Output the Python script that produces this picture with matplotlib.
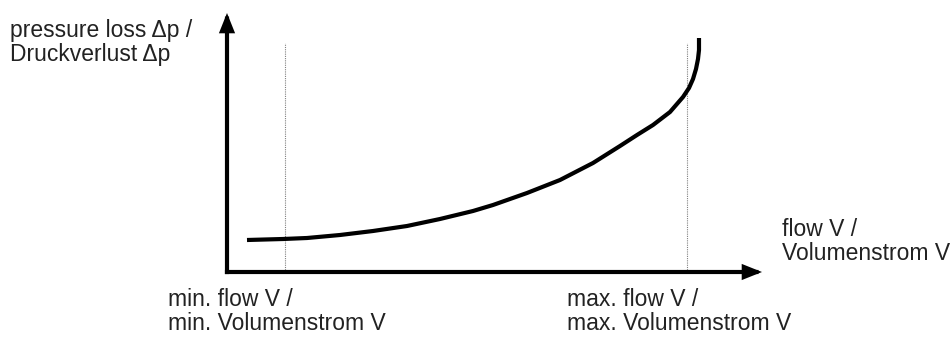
import matplotlib
matplotlib.use('Agg')
import matplotlib.pyplot as plt

plt.rcParams.update({
    'font.family': ['Liberation Sans', 'DejaVu Sans'],
    'font.size': 16.5,
})

# schematic curve (flow, pressure loss) in axis units
flow = [20, 56, 80, 113, 146, 180, 213, 246, 266, 300, 333, 366, 393,
        410, 426, 443, 456, 462, 466, 469, 471, 472, 472]
dp = [32, 33, 34, 37, 41, 46, 53, 61, 67, 79, 92, 109, 126,
      137, 147, 160, 175, 184, 193, 203, 213, 222, 234]

flow_min = 58
flow_max = 460
marker_top = 229

XMAX, YMAX = 535, 259
W, H = 953, 338

fig = plt.figure(figsize=(W / 100, H / 100), dpi=100)
ax = fig.add_axes([227 / W, (H - 272) / H, 535 / W, 259 / H])
ax.set_xlim(0, XMAX)
ax.set_ylim(0, YMAX)
ax.axis('off')

# axes with arrow heads
arrow = dict(arrowstyle='-|>,head_length=0.55,head_width=0.22', lw=3,
             color='black', shrinkA=0, shrinkB=0, joinstyle='miter',
             capstyle='projecting')
ax.annotate('', xy=(XMAX, 0), xytext=(0, 0), arrowprops=arrow,
            annotation_clip=False)
ax.annotate('', xy=(0, YMAX), xytext=(0, 0), arrowprops=arrow,
            annotation_clip=False)

# min / max flow markers
for fx in (flow_min, flow_max):
    ax.plot([fx, fx], [0, marker_top], color='#808080', lw=0.8,
            ls=(0, (1, 1)))

ax.plot(flow, dp, color='black', lw=3, solid_capstyle='butt',
        solid_joinstyle='round')

txt = dict(color='#222222', fontsize=16.5, linespacing=1.05, va='top',
           ha='left')
fig.text(10 / W, 1 - 19 / H, 'pressure loss \u0394p /\nDruckverlust \u0394p', **txt)
fig.text(782 / W, 1 - 218 / H, 'flow V /\nVolumenstrom V', **txt)
fig.text(168 / W, 1 - 288 / H, 'min. flow V /\nmin. Volumenstrom V', **txt)
fig.text(567 / W, 1 - 288 / H, 'max. flow V /\nmax. Volumenstrom V', **txt)

fig.savefig('out.png', dpi=100)
